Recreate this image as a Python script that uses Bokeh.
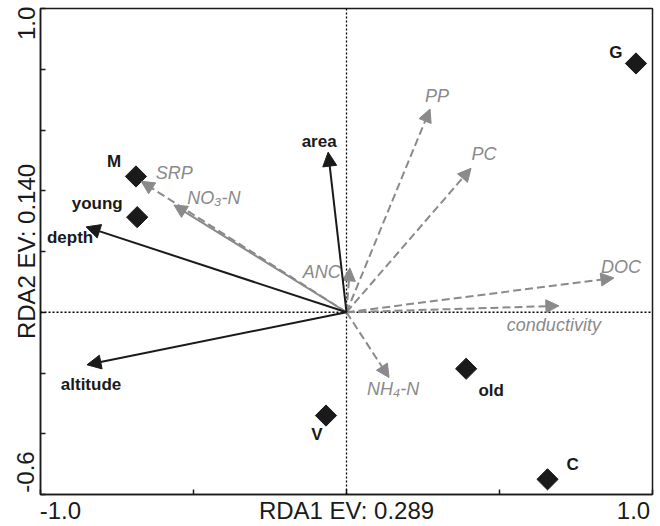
import numpy as np
from bokeh.plotting import figure
from bokeh.models import ColumnDataSource, Arrow, NormalHead, Span, FixedTicker
from bokeh.core.properties import value
from bokeh.embed import file_html
from bokeh.resources import INLINE

# ---------------- data ----------------
# sites (diamonds)
site_names = ["G", "M", "young", "V", "old", "C"]
site_x = [0.946, -0.688, -0.684, -0.067, 0.391, 0.657]
site_y = [0.819, 0.447, 0.313, -0.340, -0.186, -0.550]

# explanatory variables (black solid arrows)
expl_names = ["area", "depth", "altitude"]
expl_x = [-0.060, -0.851, -0.848]
expl_y = [0.527, 0.281, -0.173]

# response variables, dashed gray arrows
resp_names = ["SRP", "ANC", "PP", "PC", "DOC", "conductivity", "NH₄-N"]
resp_x = [-0.671, 0.011, 0.273, 0.407, 0.874, 0.694, 0.139]
resp_y = [0.431, 0.146, 0.669, 0.474, 0.113, 0.021, -0.215]

# response variable, solid gray arrow
resp2_names = ["NO₃-N"]
resp2_x = [-0.564]
resp2_y = [0.353]

x_ticks = [-1.0, -0.5, 0.0, 0.5, 1.0]
y_ticks = [-0.6, -0.4, -0.2, 0.0, 0.2, 0.4, 0.6, 0.8, 1.0]
x_title = "RDA1 EV: 0.289"
y_title = "RDA2 EV: 0.140"

# ---------------- label offsets (screen px, right / up) ----------------
site_dx = [-20, -22, -40, -9, 25, 25]
site_dy = [11, 15, 14, -19, -22, 15]
expl_dx = [-9, -16, 4]
expl_dy = [11, -11, -20]
resp_dx = [33, -28, 7, 13, 7, -5, 4]
resp_dy = [8, -4, 13, 14, 11, -19, -11]
resp2_dx = [40]
resp2_dy = [7]

# where the axis texts sit along each axis (end labels are set inside the ends)
x_label_pos = [-0.935, 0.0, 0.938]
y_label_pos = [-0.526, 0.2, 0.951]

BLACK = "#1a1a1a"
GRAY = "#8a8a8a"
FONT = value("Liberation Sans")

p = figure(width=660, height=526, x_range=(x_ticks[0], x_ticks[-1]), y_range=(y_ticks[0], y_ticks[-1]),
           output_backend="svg", toolbar_location=None,
           min_border_left=40, min_border_right=8, min_border_top=8, min_border_bottom=31)
p.grid.visible = False
p.outline_line_color = BLACK
p.outline_line_width = 1.5
p.background_fill_color = "white"
p.border_fill_color = "white"

# axes: inward tick marks at the scale values (minor ticks), texts at the ends and centre
p.xaxis.ticker = FixedTicker(ticks=x_label_pos, minor_ticks=x_ticks)
p.yaxis.ticker = FixedTicker(ticks=y_label_pos, minor_ticks=y_ticks)
p.xaxis.major_label_overrides = {x_label_pos[0]: f"{x_ticks[0]:.1f}", x_label_pos[1]: x_title,
                                 x_label_pos[2]: f"{x_ticks[-1]:.1f}"}
p.yaxis.major_label_overrides = {y_label_pos[0]: f"{y_ticks[0]:.1f}", y_label_pos[1]: y_title,
                                 y_label_pos[2]: f"{y_ticks[-1]:.1f}"}
p.yaxis.major_label_orientation = "vertical"
p.xaxis.major_label_standoff = -4
p.yaxis.major_label_standoff = -5
for ax in (p.xaxis, p.yaxis):
    ax.major_tick_line_color = None
    ax.minor_tick_in = 5
    ax.minor_tick_out = 0
    ax.minor_tick_line_color = BLACK
    ax.minor_tick_line_width = 1.5
    ax.axis_line_color = BLACK
    ax.axis_line_width = 1.5
    ax.major_label_text_font = "Liberation Sans"
    ax.major_label_text_font_size = "24px"
    ax.major_label_text_color = BLACK

# zero lines (dotted)
p.add_layout(Span(location=0, dimension="height", line_color="black", line_width=1.3, line_dash="2 2"))
p.add_layout(Span(location=0, dimension="width", line_color="black", line_width=1.3, line_dash="2 2"))

# arrows
def add_arrows(xs, ys, color, dash, head_size):
    src = ColumnDataSource(dict(x0=[0.0] * len(xs), y0=[0.0] * len(xs), x1=xs, y1=ys))
    p.add_layout(Arrow(end=NormalHead(size=head_size, fill_color=color, line_color=color, line_width=1),
                       x_start="x0", y_start="y0", x_end="x1", y_end="y1", source=src,
                       line_color=color, line_width=2, line_dash=dash))

add_arrows(resp_x, resp_y, GRAY, "8 4", 13)
add_arrows(resp2_x, resp2_y, GRAY, "solid", 13)
add_arrows(expl_x, expl_y, BLACK, "solid", 14)

# sites
p.scatter(site_x, site_y, marker="square", size=15, angle=np.pi / 4,
          fill_color=BLACK, line_color=BLACK)

def add_texts(names, xs, ys, dx, dy, color, style, size):
    src = ColumnDataSource(dict(x=xs, y=ys, t=names, dx=dx, dy=[-d for d in dy]))
    p.text(x="x", y="y", text="t", source=src, x_offset="dx", y_offset="dy",
           text_font=FONT, text_font_style=style, text_font_size=size,
           text_color=color, text_align="center", text_baseline="alphabetic")

add_texts(site_names, site_x, site_y, site_dx, site_dy, BLACK, "bold", "17px")
add_texts(expl_names, expl_x, expl_y, expl_dx, expl_dy, BLACK, "bold", "17px")
add_texts(resp_names, resp_x, resp_y, resp_dx, resp_dy, GRAY, "italic", "18px")
add_texts(resp2_names, resp2_x, resp2_y, resp2_dx, resp2_dy, GRAY, "italic", "18px")

open("out.html", "w").write(file_html(p, INLINE))
